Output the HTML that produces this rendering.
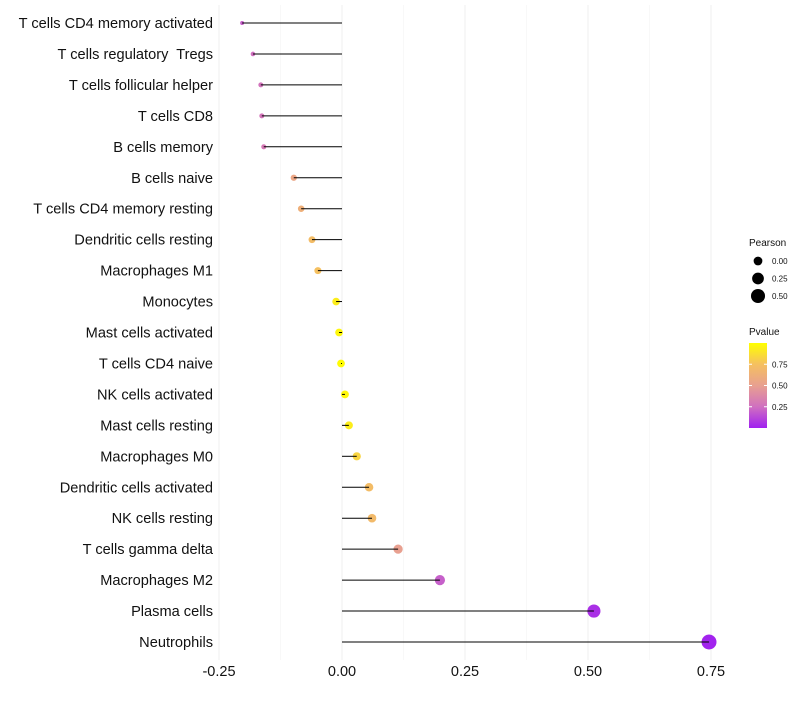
<!DOCTYPE html>
<html><head><meta charset="utf-8"><style>
body{margin:0;background:#fff;font-family:"Liberation Sans",Arial,sans-serif}
text{white-space:pre}
</style></head><body>
<svg id="chart" width="800" height="700" xmlns="http://www.w3.org/2000/svg" font-family="Liberation Sans, Arial, sans-serif">
<g id="grid"></g>
<g id="marks"></g>
<g id="ylabels"></g>
<g id="xlabels"></g>
<g id="legend"></g>
</svg>
<script>
const categories=["T cells CD4 memory activated","T cells regulatory  Tregs","T cells follicular helper","T cells CD8","B cells memory","B cells naive","T cells CD4 memory resting","Dendritic cells resting","Macrophages M1","Monocytes","Mast cells activated","T cells CD4 naive","NK cells activated","Mast cells resting","Macrophages M0","Dendritic cells activated","NK cells resting","T cells gamma delta","Macrophages M2","Plasma cells","Neutrophils"];
const pearson=[-0.203,-0.181,-0.165,-0.163,-0.159,-0.098,-0.083,-0.061,-0.049,-0.012,-0.006,-0.002,0.006,0.014,0.030,0.055,0.061,0.114,0.199,0.512,0.746];
const pvalue=[0.2,0.25,0.27,0.28,0.3,0.55,0.62,0.72,0.75,0.93,0.97,0.99,0.97,0.93,0.83,0.72,0.7,0.5,0.2,0.05,0.01];
const xTicks=[-0.25,0,0.25,0.5,0.75];
const xTickLabels=["-0.25","0.00","0.25","0.50","0.75"];
const sizeLegend=[0,0.25,0.5];
const sizeLegendLabels=["0.00","0.25","0.50"];
const colorTicks=[0.25,0.5,0.75];
const colorTickLabels=["0.25","0.50","0.75"];

const NS="http://www.w3.org/2000/svg";
function el(t,a,p){const e=document.createElementNS(NS,t);for(const k in a)e.setAttribute(k,a[k]);p.appendChild(e);return e;}
const x=v=>342+v*492;
const y=i=>23+i*(642-23)/(categories.length-1);
const pmin=Math.min(...pearson),pmax=Math.max(...pearson);
const r=v=>Math.sqrt(4+(v-pmin)/(pmax-pmin)*52);
const stops=[[0,[160,32,240]],[0.25,[208,112,192]],[0.5,[232,160,144]],[0.75,[245,192,96]],[1,[255,255,0]]];
function col(p){p=Math.max(0,Math.min(1,p));for(let i=0;i<stops.length-1;i++){const[a,ca]=stops[i],[b,cb]=stops[i+1];if(p<=b){const t=(p-a)/(b-a);return "rgb("+ca.map((c,j)=>Math.round(c+(cb[j]-c)*t)).join(",")+")";}}return "rgb(255,255,0)";}

const grid=document.getElementById('grid');
for(let i=0;i<xTicks.length;i++){
 const g=el('line',{x1:x(xTicks[i]),x2:x(xTicks[i]),y1:5,y2:660,stroke:'#f0f0f0','stroke-width':1.1},grid);
 
 
 if(i<xTicks.length-1){const m=(xTicks[i]+xTicks[i+1])/2;
 const g2=el('line',{x1:x(m),x2:x(m),y1:5,y2:660,stroke:'#f6f6f6','stroke-width':0.8},grid);
 
 }
 const t=el('text',{x:x(xTicks[i]),y:676,'text-anchor':'middle','font-size':14.5,fill:'#111'},document.getElementById('xlabels'));
 t.textContent=xTickLabels[i];
 
 
}
const marks=document.getElementById('marks');
categories.forEach((c,i)=>{
 const d=el('circle',{cx:x(pearson[i]),cy:y(i),r:r(pearson[i]),fill:col(pvalue[i])},marks);
 
 
 const l=el('line',{x1:x(0),x2:x(pearson[i]),y1:y(i),y2:y(i),stroke:'#000','stroke-width':1},marks);
 
 
 const t=el('text',{x:213,y:y(i)+5,'text-anchor':'end','font-size':14.6,fill:'#111'},document.getElementById('ylabels'));
 t.textContent=c;
 
 
});
const lg=document.getElementById('legend');
let tt=el('text',{x:749,y:246,'font-size':10,fill:'#111'},lg);tt.textContent='Pearson';


sizeLegend.forEach((v,i)=>{
 const cy=261+i*17.5;
 const d=el('circle',{cx:758,cy:cy,r:r(v)+0.5,fill:'#000'},lg);
 
 
 const t=el('text',{x:772,y:cy+3,'font-size':8,fill:'#111'},lg);t.textContent=sizeLegendLabels[i];
 
 
});
tt=el('text',{x:749,y:335,'font-size':10,fill:'#111'},lg);tt.textContent='Pvalue';


const defs=el('defs',{},lg);const gr=el('linearGradient',{id:'pg',x1:0,y1:1,x2:0,y2:0},defs);
stops.forEach(s=>el('stop',{offset:s[0],'stop-color':col(s[0])},gr));
const cb=el('rect',{x:749,y:343,width:18,height:85,fill:'url(#pg)'},lg);


const cy=v=>428-v*85;
colorTicks.forEach((v,i)=>{
 el('line',{x1:749,x2:752,y1:cy(v),y2:cy(v),stroke:'#fff'},lg);
 el('line',{x1:764,x2:767,y1:cy(v),y2:cy(v),stroke:'#fff'},lg);
 const t=el('text',{x:772,y:cy(v)+3,'font-size':8,fill:'#111'},lg);t.textContent=colorTickLabels[i];
 
 
});
</script>
</body></html>
